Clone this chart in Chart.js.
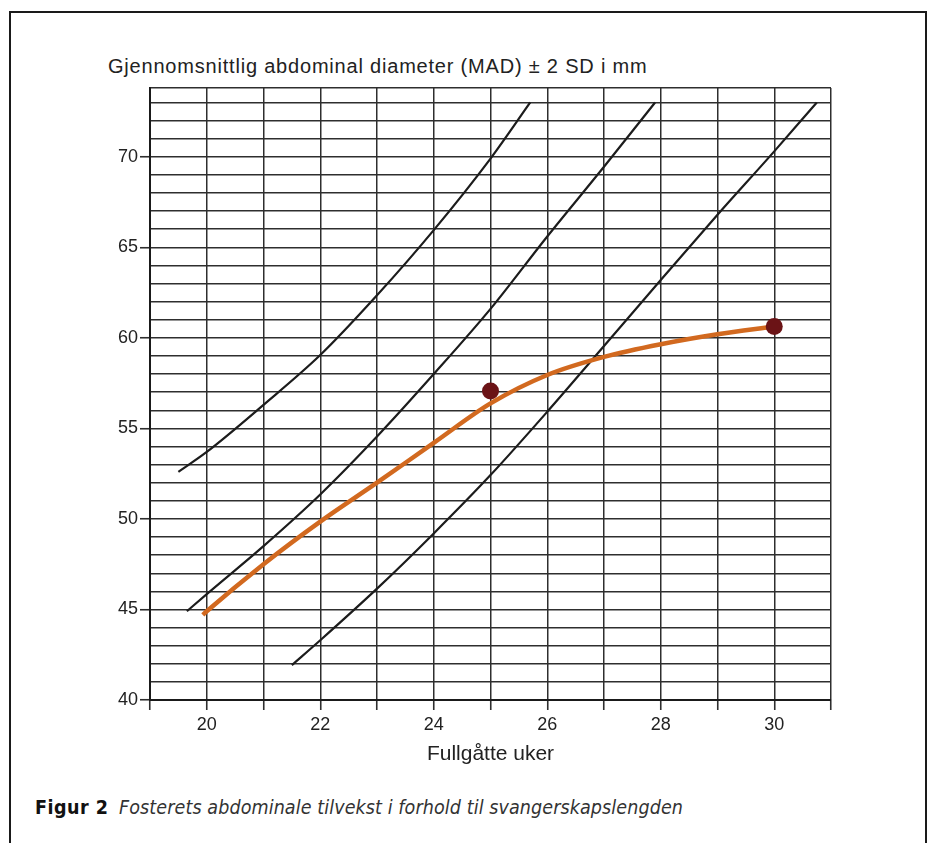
<!DOCTYPE html>
<html lang="no">
<head>
  <meta charset="UTF-8" />
  <title>Figur 2</title>
  <script src="https://cdn.jsdelivr.net/npm/chart.js"></script>
  <style>
    html, body { margin: 0; padding: 0; background: #fff; }
    body { width: 937px; height: 843px; position: relative; overflow: hidden; font-family: "Liberation Sans", Arial, sans-serif; color: #222; }
    .frame { position: absolute; left: 9px; top: 11px; width: 914px; height: 900px; border: 2px solid #1a1a1a; }
    .ytitle { position: absolute; left: 108px; top: 54px; font-size: 20px; letter-spacing: 0.8px; line-height: 24px; color: #222; white-space: nowrap; }
    .chart { position: absolute; left: 0; top: 0; width: 937px; height: 780px; }
    .caption { position: absolute; left: 35px; top: 796px; font-size: 19.5px; line-height: 24px; white-space: nowrap; font-family: "Liberation Sans Narrow", "DejaVu Sans Condensed", sans-serif; color: #111; }
    .caption b { font-weight: bold; margin-right: 5px; letter-spacing: 0.5px; }
    .caption i { color: #333; letter-spacing: 0.1px; }
  </style>
</head>
<body>
  <div class="frame"></div>
  <div class="ytitle">Gjennomsnittlig abdominal diameter (MAD) ± 2 SD i mm</div>
  <div class="chart"><canvas id="madChart"></canvas></div>
  <div class="caption"><b>Figur 2</b> <i>Fosterets abdominale tilvekst i forhold til svangerskapslengden</i></div>

  <script>
    // weeks (x) and MAD in mm (y)
    const plus2sdWeeks = [19.5, 20, 21, 22, 23, 24, 25, 25.7];
    const plus2sdMad   = [52.6, 53.7, 56.3, 59.05, 62.35, 65.95, 69.9, 73];

    const meanWeeks = [19.65, 20, 21, 22, 23, 24, 25, 26, 27, 27.9];
    const meanMad   = [44.9, 45.85, 48.5, 51.35, 54.55, 58.0, 61.6, 65.6, 69.45, 73];

    const minus2sdWeeks = [21.5, 22, 23, 24, 25, 26, 27, 28, 29, 30, 30.75];
    const minus2sdMad   = [41.93, 43.3, 46.15, 49.2, 52.42, 55.92, 59.55, 63.2, 66.8, 70.3, 73];

    const fetusWeeks = [19.93, 20, 21, 22, 23, 24, 25, 26, 27, 28, 29, 30];
    const fetusMad   = [44.7, 44.9, 47.5, 49.85, 52.0, 54.2, 56.38, 57.95, 58.95, 59.65, 60.2, 60.63];

    const measuredWeeks = [25, 30];
    const measuredMad   = [57.06, 60.63];

    const xTickLabels = [20, 22, 24, 26, 28, 30];
    const yTickLabels = [40, 45, 50, 55, 60, 65, 70];

    const toPoints = (xs, ys) => xs.map((x, i) => ({ x: x, y: ys[i] }));

    const gridColor = '#2e2e2e';
    const textFont = { family: '"Liberation Sans", Arial, sans-serif', size: 18 };

    const sdLine = (xs, ys) => ({
      data: toPoints(xs, ys),
      showLine: true,
      borderColor: '#1c1c1c',
      borderWidth: 2.2,
      pointRadius: 0,
      cubicInterpolationMode: 'monotone',
      order: 3
    });

    const ctx = document.getElementById('madChart').getContext('2d');
    new Chart(ctx, {
      type: 'scatter',
      data: {
        datasets: [
          {
            data: toPoints(measuredWeeks, measuredMad),
            pointRadius: 8.5,
            pointBackgroundColor: '#6b1316',
            pointBorderWidth: 0,
            showLine: false,
            order: 1
          },
          {
            data: toPoints(fetusWeeks, fetusMad),
            showLine: true,
            borderColor: '#d2691f',
            borderWidth: 4.5,
            pointRadius: 0,
            cubicInterpolationMode: 'monotone',
            order: 2
          },
          sdLine(plus2sdWeeks, plus2sdMad),
          sdLine(meanWeeks, meanMad),
          sdLine(minus2sdWeeks, minus2sdMad)
        ]
      },
      options: {
        responsive: true,
        maintainAspectRatio: false,
        animation: false,
        layout: { padding: { top: 88, left: 90, right: 106, bottom: 13 } },
        plugins: {
          legend: { display: false },
          tooltip: { enabled: false }
        },
        scales: {
          x: {
            type: 'linear',
            min: 19,
            max: 31,
            afterBuildTicks: scale => {
              const t = [];
              for (let v = 19; v <= 31; v++) t.push({ value: v });
              scale.ticks = t;
            },
            afterFit: scale => { scale.height = 67; },
            ticks: {
              color: '#222',
              font: textFont,
              padding: 4,
              maxRotation: 0,
              autoSkip: false,
              callback: v => xTickLabels.includes(v) ? v : ''
            },
            grid: { color: gridColor, lineWidth: 1.5, tickLength: 10, tickColor: gridColor, tickWidth: 1.6 },
            border: { display: true, color: '#1a1a1a', width: 2 },
            title: { display: true, text: 'Fullgåtte uker', color: '#222', font: { family: textFont.family, size: 21 }, padding: 0 }
          },
          y: {
            type: 'linear',
            min: 40,
            max: 73.8,
            afterBuildTicks: scale => {
              const t = [];
              for (let v = 40; v <= 73; v++) t.push({ value: v });
              t.push({ value: 73.8 });
              scale.ticks = t;
            },
            afterFit: scale => { scale.width = 60; },
            ticks: {
              color: '#222',
              font: textFont,
              padding: 2,
              autoSkip: false,
              callback: v => yTickLabels.includes(v) ? v : ''
            },
            grid: {
              color: gridColor,
              lineWidth: 1.5,
              tickLength: 10,
              tickWidth: 1.6,
              tickColor: c => (c.tick && yTickLabels.includes(c.tick.value)) ? gridColor : 'rgba(0,0,0,0)'
            },
            border: { display: true, color: '#1a1a1a', width: 2 }
          }
        }
      }
    });
  </script>
</body>
</html>
